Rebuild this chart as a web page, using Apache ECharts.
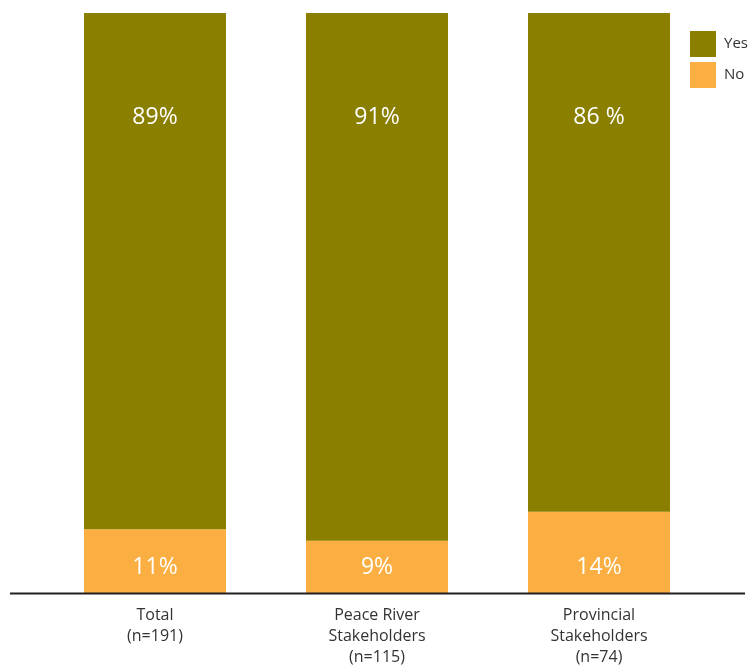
<!DOCTYPE html>
<html><head><meta charset="utf-8">
<script src="https://cdn.jsdelivr.net/npm/echarts@6/dist/echarts.min.js"></script>
<style>html,body{margin:0;padding:0;background:#fff}#c{width:751px;height:669px}</style>
</head><body><div id="c"></div>
<script>
const categories = ['Total\n(n=191)', 'Peace River\nStakeholders\n(n=115)', 'Provincial\nStakeholders\n(n=74)'];
const yesValues = [89, 91, 86];
const noValues = [11, 9, 14];
const yesLabels = ['89%', '91%', '86 %'];
const noLabels = ['11%', '9%', '14%'];

const chart = echarts.init(document.getElementById('c'));
const font = '"Open Sans", "Noto Sans", sans-serif';
chart.setOption({
  animation: false,
  textStyle: { fontFamily: font },
  grid: { left: 44, right: 41, top: 13, bottom: 76, containLabel: false },
  legend: {
    orient: 'vertical', left: 685, top: 26,
    itemWidth: 26, itemHeight: 26, itemGap: 5,
    icon: 'rect',
    textStyle: { fontSize: 15, color: '#333', fontFamily: font, padding: [3, 0, 0, 3] },
    data: ['Yes', 'No']
  },
  xAxis: {
    type: 'category', data: categories,
    axisLine: { show: false }, axisTick: { show: false },
    axisLabel: { color: '#333', fontSize: 16, lineHeight: 21, margin: 12, fontFamily: font, interval: 0 }
  },
  yAxis: { type: 'value', min: 0, max: 100, show: false, splitLine: { show: false } },
  series: [
    {
      name: 'No', type: 'bar', stack: 's', barWidth: 142, data: noValues,
      itemStyle: { color: '#FBAF42' },
      label: { show: true, position: 'insideBottom', distance: 14, color: '#fff', fontSize: 23, fontFamily: font,
        formatter: p => noLabels[p.dataIndex] }
    },
    {
      name: 'Yes', type: 'bar', stack: 's', barWidth: 142, data: yesValues,
      itemStyle: { color: '#8B7F00' },
      label: { show: true, position: 'insideTop', distance: 93, color: '#fff', fontSize: 23, fontFamily: font,
        formatter: p => yesLabels[p.dataIndex] }
    }
  ],
  graphic: [{
    type: 'line', z: 100,
    shape: { x1: 10, y1: 593.5, x2: 745, y2: 593.5 },
    style: { stroke: '#231F20', lineWidth: 2 }
  }]
});
</script></body></html>
